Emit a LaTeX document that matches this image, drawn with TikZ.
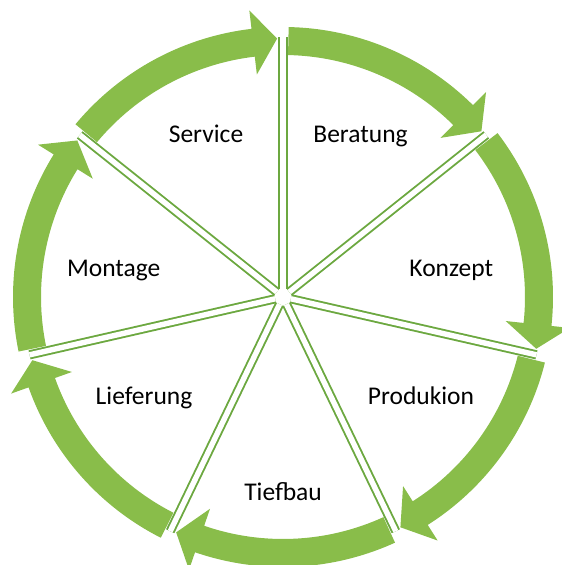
\documentclass[tikz,border=0pt]{standalone}
\usepackage{fontspec}
\setmainfont{Carlito}
\definecolor{ringgreen}{RGB}{137,189,74}
\definecolor{spokegreen}{RGB}{108,168,64}
\tikzset{
  ring/.style={fill=ringgreen, draw=none},
  spoke/.style={draw=spokegreen, double=white, line width=1.9pt, double distance=5.4pt, shorten <=8pt},
  phasetext/.style={font=\fontsize{25.5}{30}\selectfont, anchor=base, inner sep=0pt}
}
% one piece of the ring, starting at the spoke angle #1, clockwise
\newcommand{\ringarrow}[1]{%
  \pgfmathsetmacro\ta{#1-1.2}
  \pgfmathsetmacro\hb{#1-360/7+6.7}
  \pgfmathsetmacro\tp{#1-360/7+1.3}
  \fill[ring] (\ta:270) arc[start angle=\ta, end angle=\hb, radius=270] -- (\hb:288.5) -- (\tp:258.5) -- (\hb:224) -- (\hb:242) arc[start angle=\hb, end angle=\ta, radius=242] -- cycle;
}
\begin{document}
\begin{tikzpicture}[x=1pt,y=1pt]
  \useasboundingbox (0,0) rectangle (562,565);
  \coordinate (c) at (283,268);
  \begin{scope}[shift={(c)}]
    \ringarrow{90}
    \ringarrow{38.571}
    \ringarrow{-12.857}
    \ringarrow{-64.286}
    \ringarrow{-115.714}
    \ringarrow{-167.143}
    \ringarrow{-218.571}
    \coordinate (s0) at (90:260);
    \coordinate (s1) at (38.571:260);
    \coordinate (s2) at (-12.857:260);
    \coordinate (s3) at (-64.286:260);
    \coordinate (s4) at (-115.714:260);
    \coordinate (s5) at (-167.143:260);
    \coordinate (s6) at (-218.571:260);
  \end{scope}
  \draw[spoke] (c) -- (s0);
  \draw[spoke] (c) -- (s1);
  \draw[spoke] (c) -- (s2);
  \draw[spoke] (c) -- (s3);
  \draw[spoke] (c) -- (s4);
  \draw[spoke] (c) -- (s5);
  \draw[spoke] (c) -- (s6);
  \node[phasetext] (service) at (206,422) {Service};
  \node[phasetext] (beratung) at (360.5,422) {Beratung};
  \node[phasetext] (konzept) at (451.3,288) {Konzept};
  \node[phasetext] (produkion) at (421,160) {Produkion};
  \node[phasetext] (tiefbau) at (283,64) {Tiefbau};
  \node[phasetext] (lieferung) at (144,160) {Lieferung};
  \node[phasetext] (montage) at (113.7,288) {Montage};
\end{tikzpicture}
\end{document}
